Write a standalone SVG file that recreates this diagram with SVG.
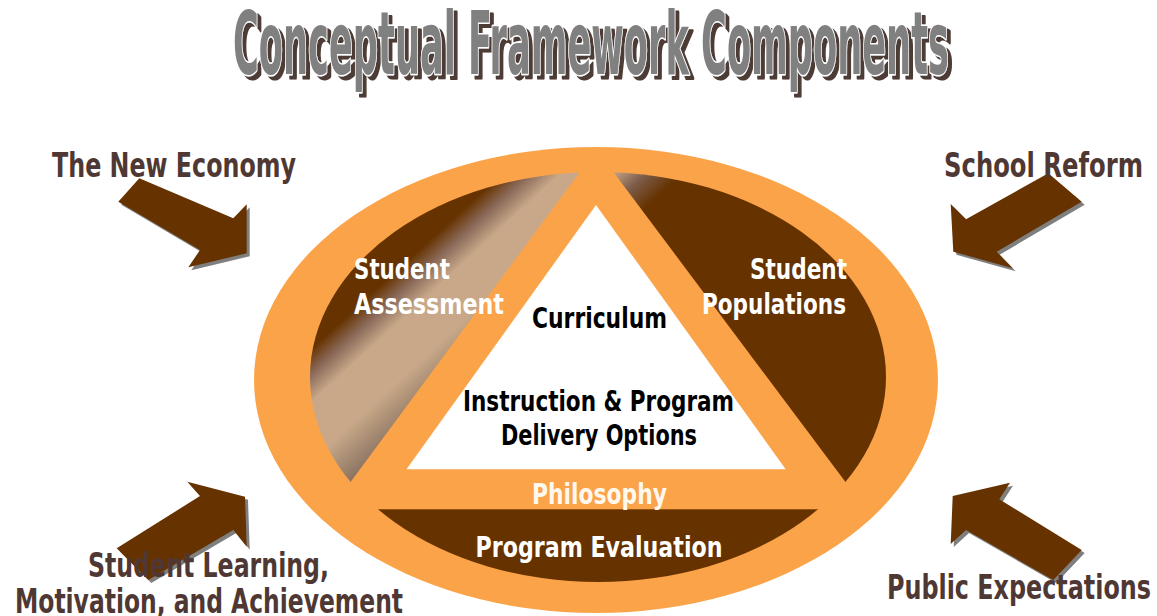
<svg xmlns="http://www.w3.org/2000/svg" width="1157" height="616" viewBox="0 0 1157 616">
<style>
  .lbl{font-family:"DejaVu Sans Condensed","DejaVu Sans","Liberation Sans",sans-serif;font-weight:bold;}
  .out{fill:#4F3833;font-size:33px;}
  .in{font-size:29px;}
  .w{fill:#FFFFFF;}
  .k{fill:#000000;}
  .ph{fill:#FFF8EE;}
  .arrow{fill:#663300;}
  .shadow{fill:#7F7F7F;}
  .title{font-family:"DejaVu Sans Condensed","DejaVu Sans","Liberation Sans",sans-serif;font-weight:bold;font-size:87px;}
  .orange{fill:#FBA349;}
  .brown{fill:#663300;}
</style>
<defs>
  <filter id="titleShadow" x="-5%" y="-20%" width="110%" height="150%">
    <feFlood flood-color="#4E3A34" result="c"/>
    <feComposite in="c" in2="SourceAlpha" operator="in" result="s"/>
    <feOffset in="s" dx="4" dy="4" result="o"/>
    <feMerge><feMergeNode in="o"/><feMergeNode in="SourceGraphic"/></feMerge>
  </filter>
  <clipPath id="innerClip"><ellipse cx="598" cy="377" rx="288" ry="205"/></clipPath>
  <linearGradient id="gLeft" gradientUnits="userSpaceOnUse" x1="400" y1="224" x2="507.5" y2="341.2">
    <stop offset="0" stop-color="#663300"/>
    <stop offset="0.2" stop-color="#663300"/>
    <stop offset="0.32" stop-color="#8B6A5A"/>
    <stop offset="0.45" stop-color="#C8A888"/>
    <stop offset="0.72" stop-color="#C8A888"/>
    <stop offset="1" stop-color="#86705F"/>
  </linearGradient>
  <linearGradient id="gRight" gradientUnits="userSpaceOnUse" x1="612" y1="172" x2="645" y2="208">
    <stop offset="0" stop-color="#C8A888"/>
    <stop offset="0.5" stop-color="#7D5C4A"/>
    <stop offset="1" stop-color="#663300"/>
  </linearGradient>
</defs>

<g id="title">
  <text class="title" x="233" y="74" textLength="716" lengthAdjust="spacingAndGlyphs" fill="#808080" stroke="#FFFFFF" stroke-width="3" paint-order="stroke" stroke-linejoin="round" filter="url(#titleShadow)">Conceptual Framework Components</text>
</g>

<g id="framework">
  <ellipse class="orange" cx="596" cy="380" rx="342" ry="233"/>
  <g clip-path="url(#innerClip)">
    <polygon fill="url(#gLeft)" points="200,100 633.3,100 248.4,620 200,620"/>
    <polygon fill="url(#gRight)" points="559.5,100 1000,100 1000,620 948.8,620"/>
    <rect class="brown" x="250" y="509.3" width="700" height="120"/>
  </g>
  <polygon fill="#FFFFFF" points="596,205 406.5,469.3 785.7,469.3"/>
</g>

<g id="node-student-assessment">
  <text class="lbl in w" x="354" y="278.5" textLength="96" lengthAdjust="spacingAndGlyphs">Student</text>
  <text class="lbl in w" x="354" y="314" textLength="150" lengthAdjust="spacingAndGlyphs">Assessment</text>
</g>
<g id="node-student-populations">
  <text class="lbl in w" x="750" y="278.5" textLength="97" lengthAdjust="spacingAndGlyphs">Student</text>
  <text class="lbl in w" x="702" y="314" textLength="144" lengthAdjust="spacingAndGlyphs">Populations</text>
</g>
<g id="node-curriculum">
  <text class="lbl in k" x="532" y="327.5" textLength="135" lengthAdjust="spacingAndGlyphs">Curriculum</text>
</g>
<g id="node-instruction">
  <text class="lbl in k" x="463" y="411" textLength="271" lengthAdjust="spacingAndGlyphs">Instruction &amp; Program</text>
  <text class="lbl in k" x="501" y="445" textLength="196" lengthAdjust="spacingAndGlyphs">Delivery Options</text>
</g>
<g id="node-philosophy">
  <text class="lbl in ph" x="532" y="503.5" textLength="135" lengthAdjust="spacingAndGlyphs">Philosophy</text>
</g>
<g id="node-program-evaluation">
  <text class="lbl in w" x="475.5" y="556.5" textLength="247" lengthAdjust="spacingAndGlyphs">Program Evaluation</text>
</g>

<g id="connectors">
  <g id="arrow-new-economy">
    <polygon class="shadow" transform="translate(3,3)" points="139.3,178.3 233.3,218.3 246.7,204.3 246.7,253.3 188.3,267.3 200,250 118.3,201.7"/>
    <polygon class="arrow" points="139.3,178.3 233.3,218.3 246.7,204.3 246.7,253.3 188.3,267.3 200,250 118.3,201.7"/>
  </g>
  <g id="arrow-school-reform">
    <polygon class="shadow" transform="translate(3,3)" points="1048.3,173.3 1081.7,201.7 996.7,251.7 1012.7,268.3 953.3,251.7 950.7,204 966,219.3"/>
    <polygon class="arrow" points="1048.3,173.3 1081.7,201.7 996.7,251.7 1012.7,268.3 953.3,251.7 950.7,204 966,219.3"/>
  </g>
  <g id="arrow-student-learning">
    <polygon class="shadow" transform="translate(3,3)" points="116.7,548.3 200,496 187.3,481.7 245,496.7 246.7,546.7 233.3,530 148.3,580"/>
    <polygon class="arrow" points="116.7,548.3 200,496 187.3,481.7 245,496.7 246.7,546.7 233.3,530 148.3,580"/>
  </g>
  <g id="arrow-public-expectations">
    <polygon class="shadow" transform="translate(3,3)" points="1010,482.7 952.7,496 950.7,544 966,530 1053.3,580 1081.7,550 999.3,499.3"/>
    <polygon class="arrow" points="1010,482.7 952.7,496 950.7,544 966,530 1053.3,580 1081.7,550 999.3,499.3"/>
  </g>
</g>

<g id="node-new-economy">
  <text class="lbl out" x="52" y="177" textLength="244" lengthAdjust="spacingAndGlyphs">The New Economy</text>
</g>
<g id="node-school-reform">
  <text class="lbl out" x="944" y="177" textLength="199" lengthAdjust="spacingAndGlyphs">School Reform</text>
</g>
<g id="node-student-learning">
  <text class="lbl out" x="88" y="577" textLength="241" lengthAdjust="spacingAndGlyphs">Student Learning,</text>
  <text class="lbl out" x="15" y="613" textLength="388" lengthAdjust="spacingAndGlyphs">Motivation, and Achievement</text>
</g>
<g id="node-public-expectations">
  <text class="lbl out" x="887" y="598.5" textLength="264" lengthAdjust="spacingAndGlyphs">Public Expectations</text>
</g>
</svg>
